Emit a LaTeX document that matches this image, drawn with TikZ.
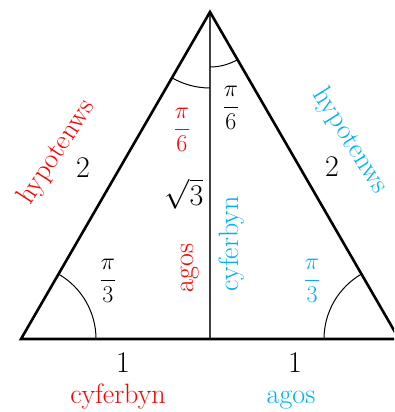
\RequirePackage{fix-cm}
\documentclass[tikz,border=0pt]{standalone}
\usepackage{fontspec}
\usetikzlibrary{calc}
\definecolor{myred}{RGB}{255,0,0}
\definecolor{myblue}{RGB}{0,176,240}
\definecolor{midline}{RGB}{64,64,64}
\tikzset{
  triline/.style={line width=2.6pt, black, line join=miter},
  altline/.style={line width=1.5pt, midline},
  anglearc/.style={line width=1pt, black},
  numlbl/.style={inner sep=0pt, font=\fontsize{30}{36}\selectfont},
  wordlbl/.style={inner sep=0pt, font=\fontsize{28}{34}\selectfont},
  fraclbl/.style={inner sep=0pt, font=\fontsize{24}{29}\selectfont},
}
\begin{document}
\begin{tikzpicture}[x=1pt,y=1pt]
\useasboundingbox (0,0) rectangle (394,412);
\clip (0,0) rectangle (394,412);
\coordinate (A) at (21,73);
\coordinate (B) at (399,73);
\coordinate (C) at (210,400);
\coordinate (D) at (210,73);
\draw[altline] (C) -- (D);
\draw[triline] (A) -- (B) -- (C) -- cycle;
% angle arcs
\draw[anglearc] ($(A)+(75,0)$) arc[start angle=0,end angle=60,radius=75];
\draw[anglearc] ($(B)+(-75,0)$) arc[start angle=180,end angle=120,radius=75];
\draw[anglearc] ($(C)+(240:76)$) arc[start angle=240,end angle=270,radius=76];
\draw[anglearc] ($(C)+(270:55)$) arc[start angle=270,end angle=300,radius=55];
% angle labels
\node[fraclbl, text=myred] (p6r) at (182,282) {$\displaystyle\frac{\pi}{6}$};
\node[fraclbl] (p6k) at (231,304) {$\displaystyle\frac{\pi}{6}$};
\node[fraclbl] (p3k) at (108,131) {$\displaystyle\frac{\pi}{3}$};
\node[fraclbl, text=myblue] (p3b) at (312,131) {$\displaystyle\frac{\pi}{3}$};
% side lengths
\node[numlbl] (oneL) at (123,49) {1};
\node[numlbl] (oneR) at (295,49) {1};
\node[numlbl] (twoL) at (83,244) {2};
\node[numlbl] (twoR) at (332,245) {2};
\node[numlbl] (rt3) at (184,218) {$\sqrt{3}$};
% words
\node[wordlbl, text=myred, anchor=base] (cyfL) at (118,9) {cyferbyn};
\node[wordlbl, text=myblue, anchor=base] (agosR) at (291,9) {agos};
\node[wordlbl, text=myred, rotate=57] (hypL) at (57,260) {hypotenws};
\node[wordlbl, text=myblue, rotate=-58] (hypR) at (350,271) {hypotenws};
\node[wordlbl, text=myred, rotate=90] (agosM) at (190,144) {agos};
\node[wordlbl, text=myblue, rotate=90] (cyfM) at (232,168) {cyferbyn};
\end{tikzpicture}
\end{document}
